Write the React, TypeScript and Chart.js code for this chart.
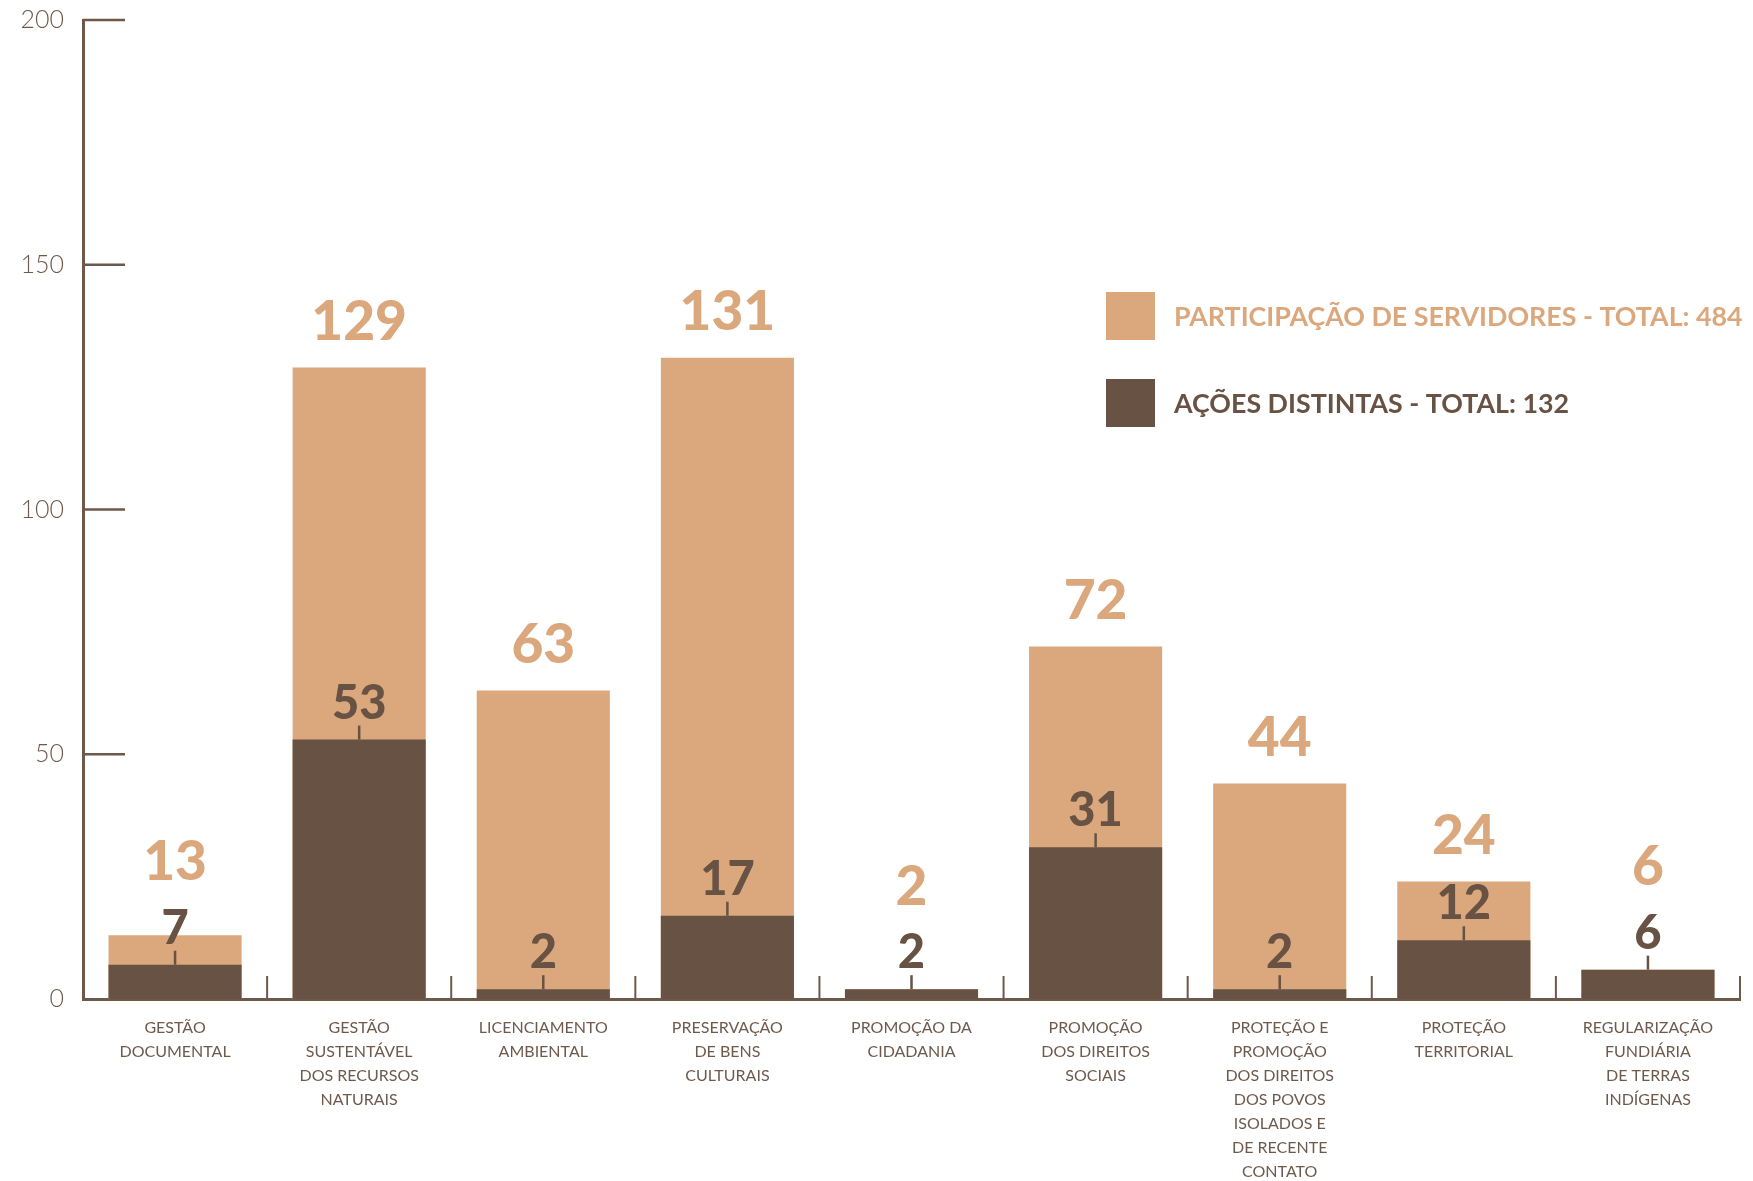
import React, { useEffect, useRef } from "react";
import { Chart, registerables } from "chart.js";

Chart.register(...registerables);

const categories: string[][] = [
  ["GESTÃO", "DOCUMENTAL"],
  ["GESTÃO", "SUSTENTÁVEL", "DOS RECURSOS", "NATURAIS"],
  ["LICENCIAMENTO", "AMBIENTAL"],
  ["PRESERVAÇÃO", "DE BENS", "CULTURAIS"],
  ["PROMOÇÃO DA", "CIDADANIA"],
  ["PROMOÇÃO", "DOS DIREITOS", "SOCIAIS"],
  ["PROTEÇÃO E", "PROMOÇÃO", "DOS DIREITOS", "DOS POVOS", "ISOLADOS E", "DE RECENTE", "CONTATO"],
  ["PROTEÇÃO", "TERRITORIAL"],
  ["REGULARIZAÇÃO", "FUNDIÁRIA", "DE TERRAS", "INDÍGENAS"],
];
const participacao = [13, 129, 63, 131, 2, 72, 44, 24, 6];
const acoes = [7, 53, 2, 17, 2, 31, 2, 12, 6];
const yTicks = [0, 50, 100, 150, 200];
const legendLabels = [
  "PARTICIPAÇÃO DE SERVIDORES - TOTAL: 484",
  "AÇÕES DISTINTAS - TOTAL: 132",
];

const LIGHT = "#DBA77C";
const DARK = "#675243";
const AXIS = "#6E5849";
const TEXT = "#6E5A4C";

const overlay = {
  id: "overlay",
  afterDatasetsDraw(chart: any) {
    const ctx = chart.ctx as CanvasRenderingContext2D;
    const x = chart.scales.x;
    const y = chart.scales.y;
    const area = chart.chartArea;
    ctx.save();
    // inner y tick marks
    ctx.strokeStyle = AXIS;
    ctx.lineWidth = 2.5;
    for (const v of yTicks) {
      if (v === 0) continue;
      const py = y.getPixelForValue(v);
      ctx.beginPath();
      ctx.moveTo(area.left, py);
      ctx.lineTo(area.left + 42, py);
      ctx.stroke();
    }
    // category boundary ticks on x axis
    const step = x.getPixelForValue(1) - x.getPixelForValue(0);
    ctx.lineWidth = 2;
    for (let i = 0; i < categories.length; i++) {
      const px = x.getPixelForValue(i) + step / 2;
      ctx.beginPath();
      ctx.moveTo(px, area.bottom);
      ctx.lineTo(px, area.bottom - 23);
      ctx.stroke();
    }
    // value labels
    const darkMeta = chart.getDatasetMeta(0);
    const lightMeta = chart.getDatasetMeta(1);
    ctx.textAlign = "center";
    ctx.textBaseline = "middle";
    for (let i = 0; i < categories.length; i++) {
      const d = darkMeta.data[i];
      const l = lightMeta.data[i];
      const darkTop = d.y;
      const darkCenter = darkTop - 36;
      ctx.strokeStyle = DARK;
      ctx.lineWidth = 2.5;
      ctx.beginPath();
      ctx.moveTo(d.x, darkTop);
      ctx.lineTo(d.x, darkTop - 14);
      ctx.stroke();
      ctx.fillStyle = DARK;
      ctx.font = "900 47px Lato";
      ctx.fillText(String(acoes[i]), d.x, darkCenter);
      const lightCenter = Math.min(l.y - 45, darkCenter - 66);
      ctx.fillStyle = LIGHT;
      ctx.font = "900 55px Lato";
      ctx.fillText(String(participacao[i]), l.x, lightCenter);
    }
    // legend
    const colors = [LIGHT, DARK];
    const tops = [292, 379];
    ctx.textAlign = "left";
    ctx.font = "bold 26.8px Lato";
    for (let k = 0; k < 2; k++) {
      ctx.fillStyle = colors[k];
      ctx.fillRect(1106, tops[k], 49, 48);
      ctx.fillText(legendLabels[k], 1174, tops[k] + 25);
    }
    ctx.restore();
  },
};

export default function App() {
  const ref = useRef<HTMLCanvasElement | null>(null);
  useEffect(() => {
    if (!ref.current) return;
    const chart = new Chart(ref.current, {
      type: "bar",
      data: {
        labels: categories as any,
        datasets: [
          {
            label: legendLabels[1],
            data: acoes,
            backgroundColor: DARK,
            grouped: false,
            barPercentage: 0.723,
            categoryPercentage: 1,
            borderWidth: 0,
          } as any,
          {
            label: legendLabels[0],
            data: participacao,
            backgroundColor: LIGHT,
            grouped: false,
            barPercentage: 0.723,
            categoryPercentage: 1,
            borderWidth: 0,
          } as any,
        ],
      },
      options: {
        responsive: false,
        animation: false,
        layout: { padding: { top: 20, right: 13, left: 0, bottom: 0 } },
        plugins: { legend: { display: false }, tooltip: { enabled: false } },
        scales: {
          x: {
            offset: true,
            grid: { display: false, drawTicks: false },
            border: { display: true, color: AXIS, width: 3 },
            ticks: {
              color: TEXT,
              font: { family: "Lato", size: 16, lineHeight: 1.5 },
              padding: 17,
              maxRotation: 0,
              autoSkip: false,
            },
            afterFit(s: any) {
              s.height = 182;
              s.paddingLeft = 0;
              s.paddingRight = 0;
            },
          },
          y: {
            min: 0,
            max: 200,
            grid: { display: false, drawTicks: false },
            border: { display: true, color: AXIS, width: 3 },
            ticks: {
              stepSize: 50,
              color: TEXT,
              font: { family: "Lato", size: 25, weight: "300" as any },
              padding: 19,
            },
            afterFit(s: any) {
              s.width = 83;
              s.paddingTop = 0;
              s.paddingBottom = 0;
            },
          },
        },
      },
      plugins: [overlay],
    });
    return () => chart.destroy();
  }, []);
  return (
    <div style={{ position: "absolute", left: 0, top: 0, width: 1753, height: 1181, background: "#fff" }}>
      <canvas ref={ref} width={1753} height={1181} style={{ display: "block" }} />
    </div>
  );
}
